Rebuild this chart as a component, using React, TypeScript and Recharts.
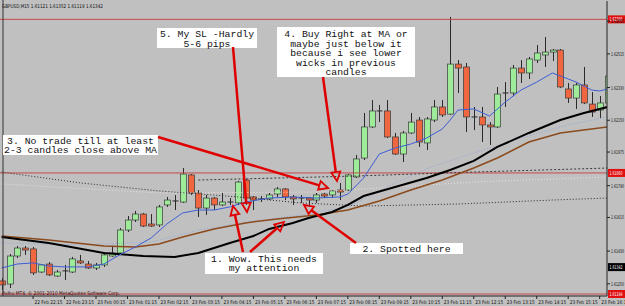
import { ComposedChart, Bar, Line, XAxis, YAxis, ReferenceLine } from "recharts";

// GBPUSD M15 candles (open / high / low / close)
const opens = [1.61266,1.61249,1.61403,1.61447,1.61442,1.61315,1.61359,1.61293,1.61321,1.61315,1.61376,1.61359,1.61337,1.61354,1.61403,1.61420,1.61546,1.61601,1.61634,1.61579,1.61574,1.61684,1.61706,1.61700,1.61849,1.61750,1.61667,1.61722,1.61684,1.61695,1.61695,1.61821,1.61728,1.61717,1.61717,1.61744,1.61772,1.61728,1.61722,1.61722,1.61711,1.61744,1.61739,1.61766,1.61766,1.61838,1.61942,1.62113,1.62201,1.62201,1.62058,1.61964,1.62080,1.62151,1.62025,1.62151,1.62223,1.62184,1.62459,1.62443,1.62168,1.62168,1.62124,1.62113,1.62294,1.62300,1.62437,1.62410,1.62481,1.62509,1.62525,1.62536,1.62322,1.62272,1.62344,1.62239,1.62206,1.62245];
const highs = [1.61282,1.61414,1.61458,1.61458,1.61453,1.61359,1.61370,1.61326,1.61354,1.61398,1.61409,1.61376,1.61365,1.61425,1.61458,1.61557,1.61623,1.61651,1.61640,1.61634,1.61684,1.61728,1.61739,1.61887,1.61854,1.61766,1.61739,1.61728,1.61750,1.61722,1.61816,1.61826,1.61733,1.61733,1.61750,1.61783,1.61777,1.61739,1.61739,1.61728,1.61750,1.61750,1.61766,1.61805,1.61854,1.61959,1.62190,1.62261,1.62234,1.62261,1.62080,1.62091,1.62190,1.62168,1.62168,1.62261,1.62261,1.62718,1.62481,1.62465,1.62223,1.62223,1.62140,1.62333,1.62360,1.62454,1.62481,1.62498,1.62564,1.62608,1.62542,1.62542,1.62355,1.62355,1.62443,1.62305,1.62283,1.62454];
const lows = [1.61216,1.61227,1.61392,1.61409,1.61299,1.61310,1.61293,1.61288,1.61271,1.61310,1.61359,1.61332,1.61326,1.61343,1.61398,1.61409,1.61535,1.61590,1.61563,1.61563,1.61563,1.61673,1.61656,1.61695,1.61739,1.61618,1.61629,1.61656,1.61678,1.61684,1.61684,1.61684,1.61656,1.61700,1.61711,1.61728,1.61711,1.61684,1.61695,1.61684,1.61695,1.61722,1.61722,1.61711,1.61761,1.61832,1.61931,1.62107,1.62140,1.62052,1.61959,1.61920,1.62074,1.62003,1.61986,1.62140,1.62168,1.62179,1.62300,1.62085,1.62096,1.62030,1.62014,1.62107,1.62223,1.62283,1.62355,1.62377,1.62465,1.62443,1.62476,1.62327,1.62245,1.62212,1.62239,1.62168,1.62162,1.62239];
const closes = [1.61244,1.61403,1.61447,1.61436,1.61310,1.61354,1.61299,1.61315,1.61315,1.61387,1.61365,1.61337,1.61354,1.61409,1.61420,1.61546,1.61601,1.61634,1.61568,1.61568,1.61673,1.61711,1.61700,1.61854,1.61750,1.61667,1.61722,1.61684,1.61700,1.61700,1.61810,1.61722,1.61711,1.61711,1.61739,1.61772,1.61728,1.61717,1.61717,1.61711,1.61739,1.61733,1.61761,1.61755,1.61849,1.61937,1.62113,1.62201,1.62195,1.62058,1.61964,1.62080,1.62140,1.62030,1.62157,1.62223,1.62179,1.62459,1.62437,1.62168,1.62162,1.62124,1.62113,1.62294,1.62300,1.62437,1.62410,1.62487,1.62520,1.62525,1.62536,1.62333,1.62272,1.62344,1.62245,1.62195,1.62245,1.62393];

// indicator lines, [bar index, price]
const fastMa = [[0,1.61337],[2,1.61359],[4,1.61365],[6,1.61348],[8,1.61343],[11,1.61343],[13,1.61359],[15,1.61409],[17,1.61453],[19,1.61502],[21,1.61579],[23,1.61640],[25,1.61656],[27,1.61656],[29,1.61673],[31,1.61700],[34,1.61722],[37,1.61728],[40,1.61722],[43,1.61728],[44,1.61744],[46,1.61832],[48,1.61964],[50,1.61997],[52,1.62019],[54,1.62052],[56,1.62102],[57,1.62151],[58,1.62206],[60,1.62212],[62,1.62173],[64,1.62250],[66,1.62316],[68,1.62360],[70,1.62410],[72,1.62377],[73,1.62360],[75,1.62316],[76,1.62311],[77,1.62322]];
const slowMa = [[0,1.61508],[6,1.61475],[13,1.61420],[18,1.61403],[22,1.61398],[25,1.61420],[29,1.61475],[32,1.61513],[34,1.61552],[37,1.61585],[39,1.61612],[42,1.61645],[44,1.61684],[46,1.61733],[50,1.61783],[54,1.61832],[57,1.61876],[60,1.61926],[63,1.62003],[67,1.62080],[71,1.62151],[74,1.62190],[77,1.62223]];
const brownMa = [[0,1.61513],[6,1.61491],[13,1.61458],[17,1.61453],[20,1.61469],[23,1.61508],[27,1.61552],[31,1.61585],[35,1.61607],[40,1.61629],[44,1.61656],[48,1.61706],[52,1.61766],[56,1.61821],[60,1.61887],[63,1.61942],[67,1.62030],[71,1.62080],[77,1.62113]];
const blueDots = [[0,1.61475],[10,1.61464],[19,1.61480],[25,1.61546],[31,1.61590],[38,1.61629],[44,1.61673],[50,1.61805],[54,1.61882],[58,1.61942],[66,1.62052],[72,1.62124],[77,1.62168]];
const darkDots = [[0,1.61865],[10,1.61805],[20,1.61761],[30,1.61728],[38,1.61695],[46,1.61678],[58,1.61689],[70,1.61711],[77,1.61722]];
const darkDots2 = [[25,1.61821],[45,1.61843],[60,1.61865],[77,1.61887]];
const lightDots = [[0,1.61799],[20,1.61750],[40,1.61755],[60,1.61810],[77,1.61838]];

const redLevels = [1.62705, 1.61860, 1.61194];
const bidPrice = 1.61342;

const timeTicks = [0,4,8,12,16,20,24,28,32,36,40,44,48,52,56,60,64,68,72,76];
const timeLabels = ["22 Feb 2011","22 Feb 22:15","22 Feb 23:15","23 Feb 00:15","23 Feb 01:15","23 Feb 02:15","23 Feb 03:15","23 Feb 04:15","23 Feb 05:15","23 Feb 06:15","23 Feb 07:15","23 Feb 08:15","23 Feb 09:15","23 Feb 10:15","23 Feb 11:15","23 Feb 12:15","23 Feb 13:15","23 Feb 14:15","23 Feb 15:15","23 Feb 16:15"];
const priceTicks = [1.62785,1.62695,1.62605,1.62515,1.62420,1.62330,1.62240,1.62150,1.62065,1.61975,1.61880,1.61790,1.61705,1.61615,1.61525,1.61430,1.61340,1.61250];

const data = opens.map((o, i) => {
  const row: any = { i, o, h: highs[i], l: lows[i], c: closes[i], hl: [lows[i], highs[i]] };
  return row;
});
const put = (key: string, pts: number[][]) => pts.forEach(([i, v]) => { data[i][key] = v; });
put("fast", fastMa);
put("slow", slowMa);
put("brown", brownMa);
put("bdots", blueDots);
put("ddots", darkDots);
put("ddots2", darkDots2);
put("ldots", lightDots);

const Candle = (props: any) => {
  let { x, y, width, height } = props;
  const p = props.payload;
  if (!p || height == null) return null;
  if (height < 0) { y += height; height = -height; }
  const k = height / (p.h - p.l || 1e-9);
  const cx = Math.round(x + width / 2) + 0.5;
  const top = y + (p.h - Math.max(p.o, p.c)) * k;
  const bot = y + (p.h - Math.min(p.o, p.c)) * k;
  const up = p.c >= p.o;
  return (
    <g>
      <line x1={cx} x2={cx} y1={y} y2={y + height} stroke="#2a2a2a" strokeWidth={1} />
      {bot - top < 1.2 ? (
        <line x1={cx - 3} x2={cx + 3} y1={top} y2={top} stroke="#2a2a2a" strokeWidth={1} />
      ) : (
        <rect x={cx - 3} y={top} width={6} height={bot - top} fill={up ? "#9eeb9a" : "#f0663f"} stroke="#3a3a3a" strokeWidth={0.7} />
      )}
    </g>
  );
};

const TimeTick = (props: any) => {
  const idx = timeTicks.indexOf(props.payload.value);
  return (
    <text x={props.x + 1.5} y={props.y + 3} fontSize={5} fontFamily="DejaVu Sans" fill="#111" textLength={28} lengthAdjust="spacingAndGlyphs">
      {timeLabels[idx]}
    </text>
  );
};

const PriceTick = (props: any) => (
  <text x={props.x} y={props.y + 2} fontSize={5} fontFamily="DejaVu Sans" fill="#111" textLength={13} lengthAdjust="spacingAndGlyphs">
    {Number(props.payload.value).toFixed(5)}
  </text>
);

const priceTag = (value: number, bg: string) => (p: any) => {
  const vb = p.viewBox || {};
  const x = vb.x + vb.width;
  return (
    <g>
      <rect x={x + 1} y={vb.y - 4} width={17} height={8} fill={bg} />
      <text x={x + 2.5} y={vb.y + 2} fontSize={5} fontFamily="DejaVu Sans" fill="#fff" textLength={13} lengthAdjust="spacingAndGlyphs">
        {value.toFixed(5)}
      </text>
    </g>
  );
};

// annotation layer (pixel positions of the hand-drawn notes)
const notes = [
  { x: 157, y: 28, w: 100, h: 20, lines: ["5. My SL -Hardly", "5-6 pips"], base: 37 },
  { x: 277, y: 27, w: 138, h: 50, lines: ["4. Buy Right at MA or", "maybe just below it", "because i see lower", "wicks in previous", "candles"], base: 37 },
  { x: 3, y: 135, w: 155, h: 20, lines: ["3. No trade till at least", "2-3 candles close above MA"], base: 143.5 },
  { x: 350, y: 243, w: 113, h: 11, lines: ["2. Spotted here"], base: 252 },
  { x: 205, y: 253, w: 118, h: 21, lines: ["1. Wow. This needs", "my attention"], base: 261.5 },
];
const arrows = [
  [158, 137, 328, 188],
  [233, 47, 247, 212],
  [323, 77, 337, 181],
  [243, 252, 233, 206],
  [250, 252, 284, 222],
  [356, 243, 304, 205],
];

function Arrow({ a }: { a: number[] }) {
  const [x1, y1, x2, y2] = a;
  const dx = x2 - x1, dy = y2 - y1;
  const len = Math.hypot(dx, dy);
  const ux = dx / len, uy = dy / len;
  const bx = x2 - ux * 9, by = y2 - uy * 9;
  const px = -uy * 4.5, py = ux * 4.5;
  return (
    <g>
      <line x1={x1} y1={y1} x2={bx} y2={by} stroke="#e00000" strokeWidth={2.5} />
      <polygon points={`${x2},${y2} ${bx + px},${by + py} ${bx - px},${by - py}`} fill="none" stroke="#e00000" strokeWidth={1.8} />
    </g>
  );
}

export default function App() {
  return (
    <div style={{ position: "absolute", left: 0, top: 0, width: 625, height: 306, background: "#c0c0c0", overflow: "hidden" }}>
      <ComposedChart width={625} height={306} data={data} margin={{ top: 1, right: 0, bottom: 0, left: 0 }}>
        <XAxis dataKey="i" type="number" domain={[-0.2, 76.93]} allowDataOverflow ticks={timeTicks} tick={<TimeTick />} height={10} tickSize={3} tickMargin={2} stroke="#222" />
        <YAxis orientation="right" width={18} domain={[1.61183, 1.62806]} allowDataOverflow ticks={priceTicks} tick={<PriceTick />} tickSize={3} tickMargin={1} stroke="#222" />
        {redLevels.map((v) => (
          <ReferenceLine key={v} y={v} stroke="#c84848" strokeWidth={1} label={{ content: priceTag(v, "#e01010") }} />
        ))}
        <ReferenceLine y={bidPrice} stroke="none" label={{ content: priceTag(bidPrice, "#000") }} />
        <Line dataKey="ldots" stroke="#f2dede" strokeWidth={1} strokeDasharray="1 2" dot={false} connectNulls isAnimationActive={false} />
        <Line dataKey="ddots" stroke="#2a2a2a" strokeWidth={1} strokeDasharray="1 2" dot={false} connectNulls isAnimationActive={false} />
        <Line dataKey="ddots2" stroke="#3a3a3a" strokeWidth={1} strokeDasharray="2 2" dot={false} connectNulls isAnimationActive={false} />
        <Line dataKey="bdots" stroke="#8ea6dc" strokeWidth={1} strokeDasharray="1 2" dot={false} connectNulls isAnimationActive={false} />
        <Line dataKey="brown" stroke="#8b4a1c" strokeWidth={1.5} dot={false} connectNulls isAnimationActive={false} />
        <Line dataKey="slow" stroke="#000" strokeWidth={2} dot={false} connectNulls isAnimationActive={false} />
        <Bar dataKey="hl" barSize={6} shape={<Candle />} isAnimationActive={false} />
        <Line dataKey="fast" stroke="#3d5fd6" strokeWidth={1} dot={false} connectNulls isAnimationActive={false} />
      </ComposedChart>
      <svg width={625} height={306} style={{ position: "absolute", left: 0, top: 0, pointerEvents: "none" }}>
        <line x1={3} y1={0} x2={3} y2={296} stroke="#333" strokeWidth={1} />
        <text x={2} y={7.5} fontSize={5} fontFamily="DejaVu Sans" fill="#111" textLength={101} lengthAdjust="spacingAndGlyphs">
          GBPUSD,M15 1.61121 1.61352 1.61119 1.61342
        </text>
        <text x={2} y={294.5} fontSize={5} fontFamily="DejaVu Sans" fill="#3a0000" textLength={118} lengthAdjust="spacingAndGlyphs">
          Pulhu MT4, © 2001-2010 MetaQuotes Software Corp.
        </text>
        {notes.map((n, k) => (
          <g key={k}>
            <rect x={n.x} y={n.y} width={n.w} height={n.h} fill="#fff" />
            {n.lines.map((t, j) => (
              <text key={j} x={n.x + n.w / 2} y={n.base + j * 9.6} textAnchor="middle" fontSize={9.8} fontFamily="Liberation Mono" fill="#111">
                {t}
              </text>
            ))}
          </g>
        ))}
        {arrows.map((a, k) => <Arrow key={k} a={a} />)}
      </svg>
    </div>
  );
}
